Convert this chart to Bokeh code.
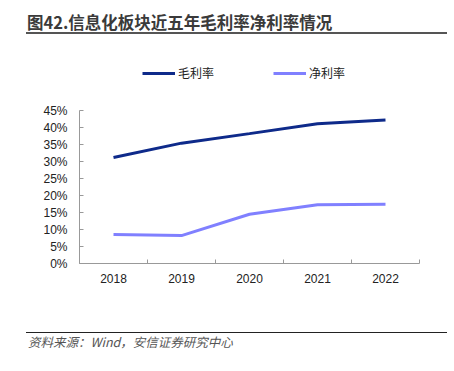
from bokeh.plotting import figure
from bokeh.layouts import column
from bokeh.models import (Div, Legend, LegendItem, FixedTicker, NumeralTickFormatter,
                          Range1d)
from bokeh.embed import file_html
from bokeh.resources import INLINE

years = ["2018", "2019", "2020", "2021", "2022"]
gross_margin = [0.312, 0.354, 0.382, 0.411, 0.422]
net_margin = [0.085, 0.082, 0.145, 0.173, 0.174]
y_ticks = [0.0, 0.05, 0.10, 0.15, 0.20, 0.25, 0.30, 0.35, 0.40, 0.45]
title_text = "图42.信息化板块近五年毛利率净利率情况"
source_text = "资料来源：Wind，安信证券研究中心"
series_names = ["毛利率", "净利率"]
colors = ["#0E2A8A", "#8080FF"]

W = 446
TOP_H = 36
MAIN_H = 284
SRC_H = 40

# page-pixel geometry of the plotting area
AX_LEFT, AX_RIGHT = 79, 419
AX_TOP, AX_BOTTOM = 110, 263  # 45% line and 0% line

# ---- title strip
title_html = (
    f'<div style="position:relative;width:{W}px;height:{TOP_H}px;">'
    '<div style="position:absolute;left:27px;top:12px;white-space:nowrap;'
    "font-family:'Noto Sans CJK SC';font-weight:bold;font-size:16.5px;line-height:20px;"
    f'color:#3a3a3a;">{title_text}</div>'
    '<div style="position:absolute;left:26px;top:32px;width:421px;height:2px;'
    'background:#555555;"></div></div>'
)
top = Div(text=title_html, width=W, height=TOP_H, margin=(0, 0, 0, 0))

# ---- main chart (frame extends above 45% to hold the legend; axis bounded)
y_top = y_ticks[-1]
y_end = y_top * (AX_BOTTOM - TOP_H) / (AX_BOTTOM - AX_TOP)
FB = MAIN_H - (AX_BOTTOM - TOP_H)

xs = [i + 0.5 for i in range(len(years))]

p = figure(width=W, height=MAIN_H, output_backend="svg", toolbar_location=None,
           x_range=Range1d(0, len(years)), y_range=Range1d(0, y_end),
           min_border_left=AX_LEFT, min_border_right=W - AX_RIGHT, min_border_top=0,
           min_border_bottom=FB, margin=(0, 0, 0, 0))
p.outline_line_color = None
p.xgrid.visible = False
p.ygrid.visible = False

r1 = p.line(xs, gross_margin, line_color=colors[0], line_width=3)
r2 = p.line(xs, net_margin, line_color=colors[1], line_width=3)

p.xaxis.ticker = FixedTicker(ticks=xs, minor_ticks=list(range(len(years) + 1)))
p.xaxis.major_label_overrides = {x: y for x, y in zip(xs, years)}
p.xaxis.major_tick_in = 0
p.xaxis.major_tick_out = 0
p.xaxis.minor_tick_in = 4
p.xaxis.minor_tick_out = 0
p.xaxis.minor_tick_line_color = "#999999"
p.xaxis.axis_line_color = "#999999"
p.xaxis.major_label_text_font = "Liberation Sans"
p.xaxis.major_label_text_font_size = "12px"
p.xaxis.major_label_text_color = "#222222"
p.xaxis.major_label_standoff = 10

p.yaxis.ticker = FixedTicker(ticks=y_ticks)
p.yaxis.bounds = (y_ticks[0], y_top)
p.yaxis.formatter = NumeralTickFormatter(format="0%")
p.yaxis.major_tick_in = 4
p.yaxis.major_tick_out = 0
p.yaxis.minor_tick_line_color = None
p.yaxis.major_tick_line_color = "#999999"
p.yaxis.axis_line_color = "#999999"
p.yaxis.major_label_text_font = "Liberation Sans"
p.yaxis.major_label_text_font_size = "12px"
p.yaxis.major_label_text_color = "#222222"
p.yaxis.major_label_standoff = 12

legend = Legend(items=[LegendItem(label=series_names[0], renderers=[r1]),
                       LegendItem(label=series_names[1], renderers=[r2])],
                orientation="horizontal", location=(142 - AX_LEFT, AX_BOTTOM - 81),
                glyph_width=33, glyph_height=14, label_standoff=3, spacing=59,
                padding=0, margin=0, border_line_color=None,
                background_fill_alpha=0, label_text_font="Noto Sans CJK SC",
                label_text_font_size="12px", label_text_color="#222222",
                label_height=14)
p.add_layout(legend, "center")

# ---- source strip
src_html = (
    f'<div style="position:relative;width:{W}px;height:{SRC_H}px;">'
    '<div style="position:absolute;left:26px;top:12px;width:421px;height:1px;'
    'background:#222222;"></div>'
    '<div style="position:absolute;left:28px;top:14px;white-space:nowrap;'
    "font-family:'Noto Sans CJK SC';font-style:italic;font-size:12.5px;line-height:16px;"
    f'color:#555555;">{source_text}</div></div>'
)
src = Div(text=src_html, width=W, height=SRC_H, margin=(0, 0, 0, 0))

layout = column(top, p, src, spacing=0)
open("out.html", "w").write(file_html(layout, INLINE))
